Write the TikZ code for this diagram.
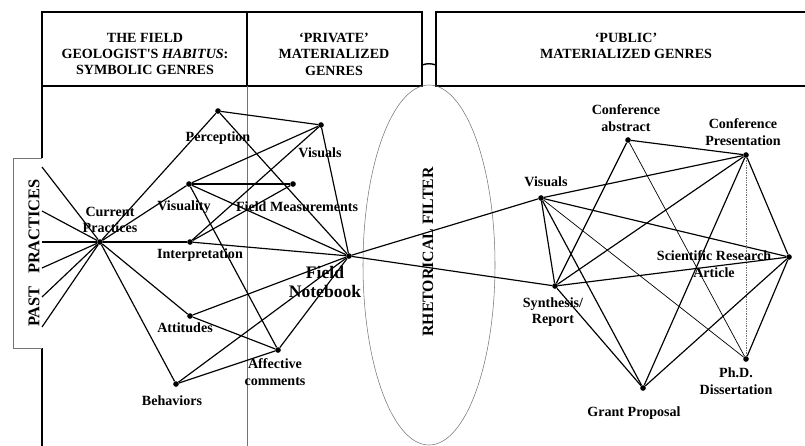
\documentclass[tikz,border=0pt]{standalone}
\usepackage{fontspec}
\setmainfont{Liberation Serif}
\tikzset{
  dot/.style={circle,fill=black,inner sep=0pt,minimum size=4.8pt},
  lbl/.style={font=\bfseries\fontsize{12}{14}\selectfont,align=center,inner sep=0pt},
  bigl/.style={font=\bfseries\fontsize{15}{17}\selectfont,align=center,inner sep=0pt},
  headl/.style={font=\bfseries\fontsize{12}{14}\selectfont,align=center,inner sep=0pt},
  edge/.style={line width=1pt},
  thinedge/.style={line width=0.6pt},
  frame/.style={line width=1.2pt},
  guide/.style={line width=0.45pt,black!55}
}
\begin{document}
\begin{tikzpicture}[x=0.03cm,y=-0.03cm]
\useasboundingbox (0,0) rectangle (805,446);

% Header boxes
\draw[frame] (42,12) rectangle (422,86);
\draw[frame] (247,12) -- (247,86);
\draw[frame] (805,12) -- (436,12) -- (436,86) -- (805,86);
\draw[frame] (422,65) to[bend left=18] (436,65);
\node[headl] (habitus) at (145,54) {THE FIELD\\GEOLOGIST\textquotesingle S \textit{HABITUS}:\\SYMBOLIC GENRES};
\node[headl] (private) at (334,54) {`PRIVATE'\\MATERIALIZED\\GENRES};
\node[headl] (public) at (626,46) {`PUBLIC'\\MATERIALIZED GENRES};

% Left frame and past practices
\draw[frame] (42,86) -- (42,158);
\draw[frame] (42,348) -- (42,446);
\draw[guide] (42,158) -- (13,158) -- (13,348) -- (42,348);
\draw[guide] (247,86) -- (247,446);
\node[font=\bfseries\fontsize{14}{16}\selectfont,rotate=90] (past) at (34,253) {PAST\hspace{0.5em} PRACTICES};

% Rhetorical filter
\draw[guide] (429,265) ellipse (66 and 180);
\node[font=\bfseries\fontsize{13.5}{16}\selectfont,rotate=90] (filter) at (428,252) {RHETORICAL FILTER};

% Points of the symbolic and private genres
\node[dot] (cp) at (100,242) {};
\node[dot] (perc) at (218,111) {};
\node[dot] (lvis) at (321,125) {};
\node[dot] (vity) at (189,184) {};
\node[dot] (fm) at (293,184) {};
\node[dot] (intp) at (190,242) {};
\node[dot] (fn) at (349,256) {};
\node[dot] (att) at (190,316) {};
\node[dot] (aff) at (278,350) {};
\node[dot] (beh) at (176,384) {};

% Points of the public genres
\node[dot] (rvis) at (541,198) {};
\node[dot] (abs) at (628,140) {};
\node[dot] (pres) at (746,155) {};
\node[dot] (art) at (789,257) {};
\node[dot] (syn) at (555,286) {};
\node[dot] (phd) at (746,359) {};
\node[dot] (grant) at (643,388) {};

% Past practices feeding current practices
\foreach \y [count=\i] in {167,211,242,268,297,327}
  \coordinate (pp\i) at (42,\y);
\foreach \i in {1,...,6}
  \draw[edge] (pp\i) -- (cp);

% Drawing lines, left part
\draw[edge] (cp) -- (perc);
\draw[edge] (cp) -- (vity);
\draw[edge] (cp) -- (intp);
\draw[edge] (cp) -- (att);
\draw[edge] (cp) -- (beh);
\draw[edge] (perc) -- (lvis);
\draw[edge] (perc) -- (fn);
\draw[edge] (vity) -- (lvis);
\draw[edge] (vity) -- (fm);
\draw[edge] (vity) -- (fn);
\draw[edge] (vity) -- (aff);
\draw[edge] (intp) -- (fm);
\draw[edge] (intp) -- (lvis);
\draw[edge] (intp) -- (fn);
\draw[edge] (lvis) -- (fn);
\draw[edge] (att) -- (fn);
\draw[edge] (att) -- (aff);
\draw[edge] (beh) -- (fn);
\draw[edge] (beh) -- (aff);
\draw[edge] (aff) -- (fn);

% Through the filter
\draw[edge] (fn) -- (rvis);
\draw[edge] (fn) -- (syn);

% Drawing lines, right part
\draw[edge] (rvis) -- (pres);
\draw[edge] (rvis) -- (art);
\draw[edge] (rvis) -- (syn);
\draw[edge] (rvis) -- (grant);
\draw[thinedge] (rvis) -- (phd);
\draw[edge] (abs) -- (pres);
\draw[edge] (abs) -- (syn);
\draw[thinedge] (abs) -- (phd);
\draw[edge] (pres) -- (syn);
\draw[edge] (pres) -- (grant);
\draw[edge] (pres) -- (art);
\draw[guide,densely dotted] (pres) -- (phd);
\draw[edge] (syn) -- (art);
\draw[edge] (syn) -- (grant);
\draw[edge] (grant) -- (art);
\draw[edge] (phd) -- (art);

% Labels
\node[lbl] (cp-l) at (110,220) {Current\\Practices};
\node[lbl] (perc-l) at (218,138) {Perception};
\node[lbl] (lvis-l) at (320,153) {Visuals};
\node[lbl] (vity-l) at (184,207) {Visuality};
\node[lbl] (fm-l) at (297,207) {Field Measurements};
\node[lbl] (intp-l) at (200,255) {Interpretation};
\node[bigl] (fn-l) at (325,282) {Field\\Notebook};
\node[lbl] (att-l) at (185,328) {Attitudes};
\node[lbl] (aff-l) at (275,372) {Affective\\comments};
\node[lbl] (beh-l) at (172,401) {Behaviors};
\node[lbl] (rvis-l) at (546,182) {Visuals};
\node[lbl] (abs-l) at (626,118) {Conference\\abstract};
\node[lbl] (pres-l) at (743,132) {Conference\\Presentation};
\node[lbl] (art-l) at (714,264) {Scientific Research\\Article};
\node[lbl] (syn-l) at (553,312) {Synthesis/\\Report};
\node[lbl] (phd-l) at (736,381) {Ph.D.\\Dissertation};
\node[lbl] (grant-l) at (634,413) {Grant Proposal};
\end{tikzpicture}
\end{document}
